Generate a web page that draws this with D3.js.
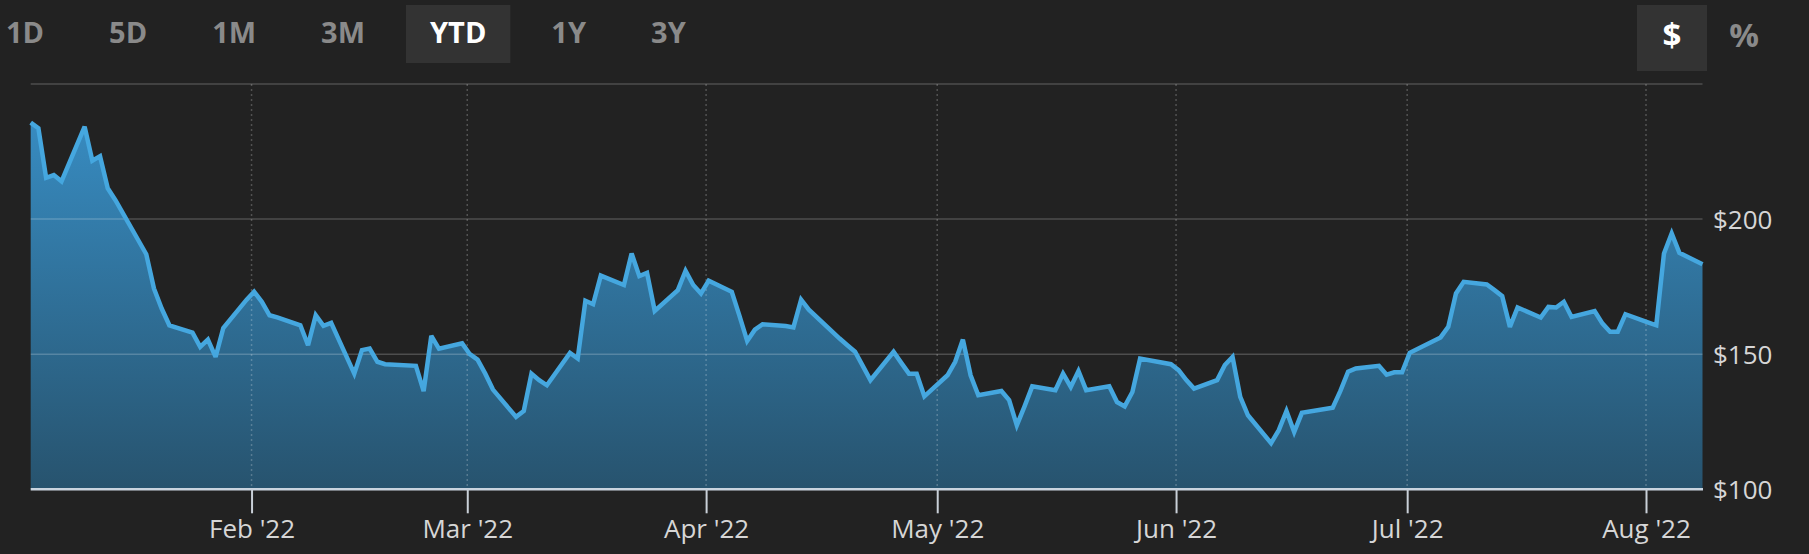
<!DOCTYPE html>
<html>
<head>
<meta charset="utf-8">
<script src="https://cdn.jsdelivr.net/npm/d3@7"></script>
<style>
  html, body { margin: 0; padding: 0; background: #222222; }
  svg { display: block; }
  text { font-family: "Open Sans", "Noto Sans", sans-serif; }
</style>
</head>
<body>
<svg id="chart" width="1809" height="554"></svg>
<script>
// ---------------- DATA ----------------
const dates = [
  "2022-01-03","2022-01-04","2022-01-05","2022-01-06","2022-01-07",
  "2022-01-10","2022-01-11","2022-01-12","2022-01-13","2022-01-14",
  "2022-01-18","2022-01-19","2022-01-20","2022-01-21",
  "2022-01-24","2022-01-25","2022-01-26","2022-01-27","2022-01-28",
  "2022-01-31","2022-02-01","2022-02-02","2022-02-03","2022-02-04",
  "2022-02-07","2022-02-08","2022-02-09","2022-02-10","2022-02-11",
  "2022-02-14","2022-02-15","2022-02-16","2022-02-17","2022-02-18",
  "2022-02-22","2022-02-23","2022-02-24","2022-02-25",
  "2022-02-28","2022-03-01","2022-03-02","2022-03-03","2022-03-04",
  "2022-03-07","2022-03-08","2022-03-09","2022-03-10","2022-03-11",
  "2022-03-14","2022-03-15","2022-03-16","2022-03-17","2022-03-18",
  "2022-03-21","2022-03-22","2022-03-23","2022-03-24","2022-03-25",
  "2022-03-28","2022-03-29","2022-03-30","2022-03-31","2022-04-01",
  "2022-04-04","2022-04-05","2022-04-06","2022-04-07","2022-04-08",
  "2022-04-11","2022-04-12","2022-04-13","2022-04-14",
  "2022-04-18","2022-04-19","2022-04-20","2022-04-21","2022-04-22",
  "2022-04-25","2022-04-26","2022-04-27","2022-04-28","2022-04-29",
  "2022-05-02","2022-05-03","2022-05-04","2022-05-05","2022-05-06",
  "2022-05-09","2022-05-10","2022-05-11","2022-05-12","2022-05-13",
  "2022-05-16","2022-05-17","2022-05-18","2022-05-19","2022-05-20",
  "2022-05-23","2022-05-24","2022-05-25","2022-05-26","2022-05-27",
  "2022-05-31","2022-06-01","2022-06-02","2022-06-03",
  "2022-06-06","2022-06-07","2022-06-08","2022-06-09","2022-06-10",
  "2022-06-13","2022-06-14","2022-06-15","2022-06-16","2022-06-17",
  "2022-06-21","2022-06-22","2022-06-23","2022-06-24",
  "2022-06-27","2022-06-28","2022-06-29","2022-06-30","2022-07-01",
  "2022-07-05","2022-07-06","2022-07-07","2022-07-08",
  "2022-07-11","2022-07-12","2022-07-13","2022-07-14","2022-07-15",
  "2022-07-18","2022-07-19","2022-07-20","2022-07-21","2022-07-22",
  "2022-07-25","2022-07-26","2022-07-27","2022-07-28","2022-07-29",
  "2022-08-01","2022-08-02","2022-08-03","2022-08-04","2022-08-05",
  "2022-08-08"
];
const prices = [
  235.7,233.6,215.3,216.3,214.0,
  234.2,221.6,223.3,211.4,207.0,
  187.0,174.3,166.9,160.7,
  158.0,152.7,155.4,149.0,159.7,
  170.1,173.1,169.4,164.4,163.6,
  160.7,153.3,164.4,160.5,161.6,
  142.8,151.5,152.1,147.2,146.3,
  145.7,136.3,156.8,152.0,
  154.0,150.0,148.0,142.8,136.9,
  126.8,129.0,142.8,140.4,138.5,
  150.5,148.4,169.8,168.5,179.1,
  175.6,187.3,178.9,180.1,166.0,
  173.7,180.9,175.6,172.5,177.2,
  173.1,164.2,154.9,159.1,161.1,
  160.4,159.9,170.2,166.5,
  155.8,153.3,150.9,145.7,140.4,
  150.9,146.8,142.8,142.8,134.4,
  142.2,147.2,155.4,142.2,134.8,
  136.4,133.0,123.7,130.7,138.1,
  136.7,142.8,137.9,143.8,136.7,
  138.1,132.3,130.7,136.0,148.4,
  146.3,144.1,140.4,137.3,
  140.4,146.0,149.0,134.2,127.4,
  117.1,121.9,129.0,121.2,128.3,
  130.2,136.4,143.5,144.7,
  145.7,142.4,143.3,143.3,150.5,
  156.2,160.1,172.5,176.8,
  175.8,173.7,171.5,160.1,167.3,
  163.6,167.5,167.3,169.4,163.8,
  166.0,161.4,158.3,158.3,164.8,
  161.7,160.7,187.3,194.7,187.5,
  183.3
];
const monthTickDates = ["2022-02-01","2022-03-01","2022-04-01","2022-05-01","2022-06-01","2022-07-01","2022-08-01"];
const monthTickLabels = ["Feb '22","Mar '22","Apr '22","May '22","Jun '22","Jul '22","Aug '22"];
const yTickValues = [100, 150, 200];
const yTickLabels = ["$100", "$150", "$200"];
const gridValues = [150, 200, 250];
const rangeButtons = ["1D", "5D", "1M", "3M", "YTD", "1Y", "3Y"];
const activeRange = "YTD";
const unitButtons = ["$", "%"];
const activeUnit = "$";

(function () {
// ---------------- LAYOUT ----------------
const svg = d3.select("#chart");
const parse = d3.timeParse("%Y-%m-%d");
const closeTime = s => d3.timeHour.offset(parse(s), 8);
const data = dates.map((d, i) => ({ date: closeTime(d), value: prices[i] }));

const pLeft = 30.7, pRight = 1702.5, pTop = 84, pBottom = 489.3;
const x = d3.scaleTime().domain(d3.extent(data, d => d.date)).range([pLeft, pRight]);
const y = d3.scaleLinear().domain([100, 250]).range([pBottom, pTop]);

// gradient
const defs = svg.append("defs");
const grad = defs.append("linearGradient").attr("id", "areaGrad")
  .attr("gradientUnits", "userSpaceOnUse")
  .attr("x1", 0).attr("x2", 0).attr("y1", pTop).attr("y2", pBottom);
grad.append("stop").attr("offset", "0%").attr("stop-color", "#3991c9");
grad.append("stop").attr("offset", "100%").attr("stop-color", "#27536e");

// area
const area = d3.area().x(d => x(d.date)).y0(y(100)).y1(d => y(d.value));
svg.append("path").datum(data).attr("d", area).attr("fill", "url(#areaGrad)");

// horizontal gridlines
svg.append("g").selectAll("line").data(gridValues).join("line")
  .attr("x1", pLeft).attr("x2", pRight)
  .attr("y1", d => y(d)).attr("y2", d => y(d))
  .attr("stroke", "rgba(255,255,255,0.2)").attr("stroke-width", 1.5);

// vertical dotted gridlines
const tickDates = monthTickDates.map(parse);
svg.append("g").selectAll("line").data(tickDates).join("line")
  .attr("x1", d => x(d)).attr("x2", d => x(d))
  .attr("y1", y(250)).attr("y2", pBottom)
  .attr("stroke", "rgba(255,255,255,0.22)").attr("stroke-width", 1.5)
  .attr("stroke-dasharray", "2,3");

// line
const line = d3.line().x(d => x(d.date)).y(d => y(d.value));
svg.append("path").datum(data).attr("d", line)
  .attr("fill", "none").attr("stroke", "#45a7df").attr("stroke-width", 4.5)
  .attr("stroke-linejoin", "miter").attr("stroke-miterlimit", 3);

// x axis
const xAxis = d3.axisBottom(x)
  .tickValues(tickDates)
  .tickFormat((d, i) => monthTickLabels[i])
  .tickSize(24).tickPadding(6);
const gx = svg.append("g").attr("transform", `translate(0,${pBottom})`).call(xAxis);
gx.select(".domain").attr("d", `M${pLeft},0H${pRight + 0.5}`)
  .attr("stroke", "#c9d4df").attr("stroke-width", 2.5);
gx.selectAll(".tick line").attr("stroke", "#c9d0d8").attr("stroke-width", 2);
gx.selectAll(".tick text").attr("fill", "#d6d6d6")
  .attr("font-size", 26).attr("font-family", "Open Sans");

// y axis labels
const yAxis = d3.axisRight(y)
  .tickValues(yTickValues)
  .tickFormat((d, i) => yTickLabels[i])
  .tickSize(0).tickPadding(0);
const gy = svg.append("g").attr("transform", `translate(1713,0)`).call(yAxis);
gy.select(".domain").remove();
gy.selectAll(".tick text").attr("fill", "#d6d6d6")
  .attr("font-size", 26).attr("font-family", "Open Sans").attr("dy", "0.36em");

// range buttons: flex-like layout from measured text widths
const pad = 24, gap = 17;
const gb = svg.append("g");
const bg = gb.append("g");
const labels = gb.selectAll("text").data(rangeButtons).join("text")
  .attr("y", 43)
  .attr("text-anchor", "middle")
  .attr("font-size", 29).attr("font-weight", "bold")
  .attr("fill", d => d === activeRange ? "#ffffff" : "#8a8a8a")
  .text(d => d);
let cursor = -18;
labels.each(function (d) {
  const w = this.getComputedTextLength() + 2 * pad;
  const cx = cursor + w / 2;
  d3.select(this).attr("x", cx);
  if (d === activeRange) {
    bg.append("rect").attr("x", cursor).attr("y", 5)
      .attr("width", w).attr("height", 58).attr("fill", "#333333");
  }
  cursor += w + gap;
});

// unit buttons
const unitCenters = d3.scalePoint().domain(unitButtons).range([1672, 1744]);
const gu = svg.append("g");
gu.selectAll("rect").data(unitButtons.filter(b => b === activeUnit)).join("rect")
  .attr("x", d => unitCenters(d) - 35).attr("y", 5)
  .attr("width", 70).attr("height", 66).attr("fill", "#333333");
gu.selectAll("text").data(unitButtons).join("text")
  .attr("x", d => unitCenters(d)).attr("y", 47)
  .attr("text-anchor", "middle")
  .attr("font-size", 33).attr("font-weight", "bold")
  .attr("fill", d => d === activeUnit ? "#ffffff" : "#8a8a8a")
  .text(d => d);
})();
</script>
</body>
</html>
